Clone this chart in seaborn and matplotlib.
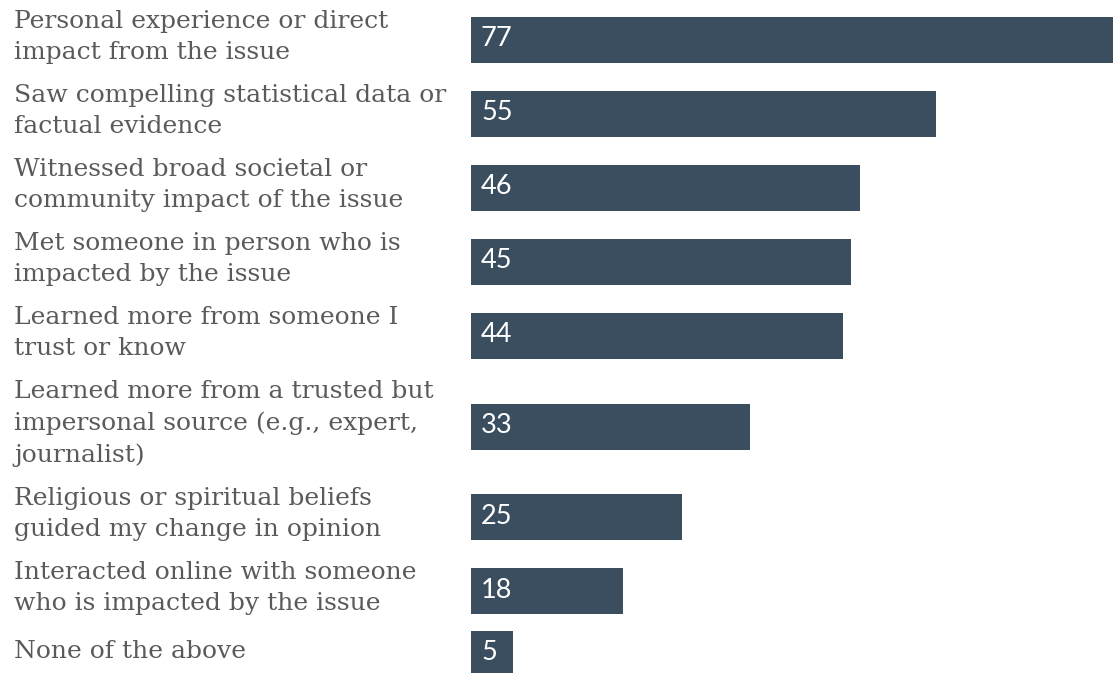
import matplotlib
matplotlib.use("Agg")
import matplotlib.pyplot as plt
import matplotlib.transforms as mtransforms
import numpy as np
import pandas as pd
import seaborn as sns

# Reasons for changing an opinion on an issue (share of respondents)
reasons = [
    "Personal experience or direct\nimpact from the issue",
    "Saw compelling statistical data or\nfactual evidence",
    "Witnessed broad societal or\ncommunity impact of the issue",
    "Met someone in person who is\nimpacted by the issue",
    "Learned more from someone I\ntrust or know",
    "Learned more from a trusted but\nimpersonal source (e.g., expert,\njournalist)",
    "Religious or spiritual beliefs\nguided my change in opinion",
    "Interacted online with someone\nwho is impacted by the issue",
    "None of the above",
]
values = [77, 55, 46, 45, 44, 33, 25, 18, 5]

BAR_COLOR = "#3b4e5f"
TEXT_COLOR = "#5a5a5a"

# Each row grows with the number of lines in its label
LINE_H = 33
ROW_PAD = 8
ROW_MIN = 52
TOP_PAD = 3
BAR_H = 46

n_lines = np.array([r.count("\n") + 1 for r in reasons])
row_h = np.maximum(n_lines * LINE_H + ROW_PAD, ROW_MIN)
row_center = TOP_PAD + np.concatenate([[0], np.cumsum(row_h)[:-1]]) + row_h / 2

df = pd.DataFrame({"reason": reasons, "value": values, "pos": row_center})

W, H = 1113, 673
fig = plt.figure(figsize=(W / 100, H / 100), dpi=100)
sns.set_style("white")
ax = fig.add_axes([471 / W, 0, 1 - 471 / W, 1])

min_gap = np.min(np.diff(row_center))
sns.barplot(
    data=df, x="value", y="pos", orient="h", native_scale=True,
    color=BAR_COLOR, saturation=1, width=BAR_H / min_gap, ax=ax,
    linewidth=0,
)

ax.set_xlim(0, (W - 471) / 8.4545)
ax.set_ylim(H, 0)
ax.axis("off")

# value labels inside the bars
for v, y in zip(values, row_center):
    ax.annotate(str(v), xy=(0, y), xytext=(10, 1), textcoords="offset pixels",
                ha="left", va="center", color="white", fontsize=19.5,
                family="Lato")

# category labels on the left
trans = mtransforms.blended_transform_factory(fig.transFigure, ax.transData)
for r, y in zip(reasons, row_center):
    ax.text(14 / W, y - 3, r, transform=trans, ha="left", va="center",
            multialignment="left", fontsize=18, family="DejaVu Serif",
            color=TEXT_COLOR, linespacing=1.45, clip_on=False)

fig.savefig("out.png", dpi=100, facecolor="white")
